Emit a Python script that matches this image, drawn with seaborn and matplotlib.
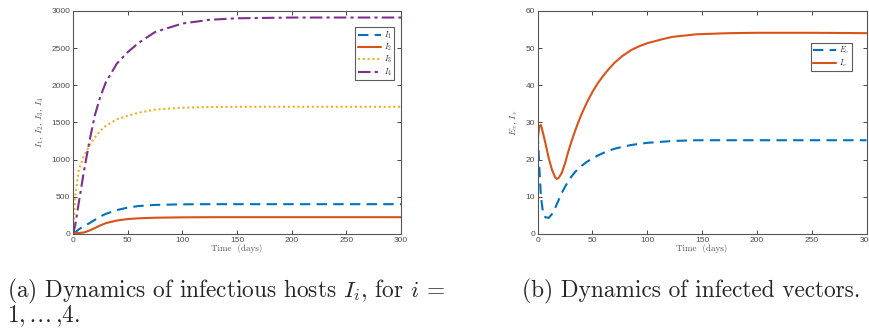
import numpy as np
import pandas as pd
import seaborn as sns
import matplotlib.pyplot as plt

sns.set_style('ticks')
plt.rcParams['font.family'] = ['Liberation Sans', 'DejaVu Sans']
plt.rcParams['mathtext.fontset'] = 'cm'

# host curves (panel a)
t_host = [0, 2, 5, 10, 15, 20, 25, 30, 40, 50, 60, 75, 100, 125, 150, 200, 250, 300]
I1 = [30, 20, 60, 105, 145, 190, 235, 270, 320, 355, 375, 390, 398, 400, 400, 400, 400, 400]
I2 = [15, 13, 12, 20, 45, 80, 115, 145, 180, 200, 210, 218, 223, 225, 225, 225, 225, 225]
I3 = [0, 500, 850, 1050, 1190, 1300, 1390, 1455, 1540, 1590, 1630, 1672, 1698, 1706, 1710, 1710, 1710, 1710]
I4 = [0, 120, 400, 850, 1250, 1600, 1850, 2040, 2290, 2445, 2570, 2715, 2830, 2880, 2900, 2910, 2910, 2910]

# vector curves (panel b)
t_vec = [0, 1.5, 3, 5, 7, 10, 13, 16, 17.5, 19, 22, 25, 28, 31, 34, 37, 40, 45, 50, 55,
         60, 65, 70, 77, 85, 92, 100, 114, 123, 145, 175, 200, 250, 300]
Ev = [27, 18, 10, 5.5, 4.5, 4.3, 5.3, 7, 8, 9, 11, 12.7, 14.2, 15.5, 16.6, 17.5, 18.3, 19.4,
      20.3, 21.1, 21.8, 22.4, 22.9, 23.4, 23.9, 24.2, 24.5, 24.8, 25, 25.2, 25.2, 25.2, 25.2, 25.2]
Iv = [25.3, 29, 29.3, 27, 24.5, 20.5, 17.3, 15.2, 14.8, 15, 16.4, 19, 22.2, 25, 27.6, 30,
      32.2, 35.4, 38.2, 40.6, 42.6, 44.4, 46, 47.8, 49.4, 50.4, 51.3, 52.4, 53, 53.7, 54,
      54.1, 54.1, 54]

blue = '#0072BD'
orange = '#D95319'
yellow = '#EDB120'
purple = '#7E2F8E'

fig = plt.figure(figsize=(8.7, 3.29), dpi=100)
ax1 = fig.add_axes([0.084, 0.289, 0.377, 0.678])
ax2 = fig.add_axes([0.618, 0.289, 0.378, 0.678])

df_h = pd.DataFrame({'t': t_host, 'I1': I1, 'I2': I2, 'I3': I3, 'I4': I4})
df_v = pd.DataFrame({'t': t_vec, 'Ev': Ev, 'Iv': Iv})

sns.lineplot(data=df_h, x='t', y='I1', ax=ax1, color=blue, lw=1.5, linestyle=(0, (5, 3)), label=r'$I_1$')
sns.lineplot(data=df_h, x='t', y='I2', ax=ax1, color=orange, lw=1.5, linestyle='-', label=r'$I_2$')
sns.lineplot(data=df_h, x='t', y='I3', ax=ax1, color=yellow, lw=1.5, linestyle=(0, (1, 1.3)), label=r'$I_3$')
sns.lineplot(data=df_h, x='t', y='I4', ax=ax1, color=purple, lw=1.5, linestyle=(0, (6, 2, 1.5, 2)), label=r'$I_4$')

sns.lineplot(data=df_v, x='t', y='Ev', ax=ax2, color=blue, lw=1.5, linestyle=(0, (5, 3)), label=r'$E_v$')
sns.lineplot(data=df_v, x='t', y='Iv', ax=ax2, color=orange, lw=1.5, linestyle='-', label=r'$I_v$')

ax1.set_xlim(0, 300)
ax1.set_ylim(0, 3000)
ax1.set_yticks(np.arange(0, 3001, 500))
ax2.set_xlim(0, 300)
ax2.set_ylim(0, 60)
ax2.set_yticks(np.arange(0, 61, 10))

for ax in [ax1, ax2]:
    ax.set_xticks(np.arange(0, 301, 50))
    ax.tick_params(direction='in', length=3, width=0.6, labelsize=6, labelcolor='#4d4d4d',
                   top=True, right=True, pad=2)
    for s in ax.spines.values():
        s.set_visible(True)
        s.set_linewidth(0.8)
        s.set_color('#555555')
    ax.set_xlabel('Time  (days)', fontsize=6.5, family='cmr10', color='#555555', labelpad=0)

ax1.set_ylabel(r'$I_1,\, I_2,\, I_3,\, I_4$', fontsize=7, color='#555555', labelpad=4)
ax2.set_ylabel(r'$E_v,\, I_v$', fontsize=7, color='#555555', labelpad=4)

leg1 = ax1.legend(loc='upper right', bbox_to_anchor=(0.99, 0.945), fontsize=5.5, frameon=True,
                  fancybox=False, edgecolor='#333333', handlelength=3, handletextpad=0.4,
                  borderpad=0.3, labelspacing=0.15)
leg1.get_frame().set_linewidth(0.8)
leg2 = ax2.legend(loc='upper right', bbox_to_anchor=(0.967, 0.875), fontsize=5.5, frameon=True,
                  fancybox=False, edgecolor='#333333', handlelength=3, handletextpad=0.4,
                  borderpad=0.3, labelspacing=0.15)
leg2.get_frame().set_linewidth(0.8)

fig.text(0.008, 0.097, r'(a) Dynamics of infectious hosts $I_i$, for $i$ =', fontsize=16.8,
         family='cmr10', va='baseline', ha='left')
fig.text(0.008, 0.021, r'1,$\,\ldots\,$,4.', fontsize=16.8, family='cmr10', va='baseline', ha='left')
fig.text(0.600, 0.097, '(b) Dynamics of infected vectors.', fontsize=16.8, family='cmr10',
         va='baseline', ha='left')

fig.savefig('out.png', dpi=100)
